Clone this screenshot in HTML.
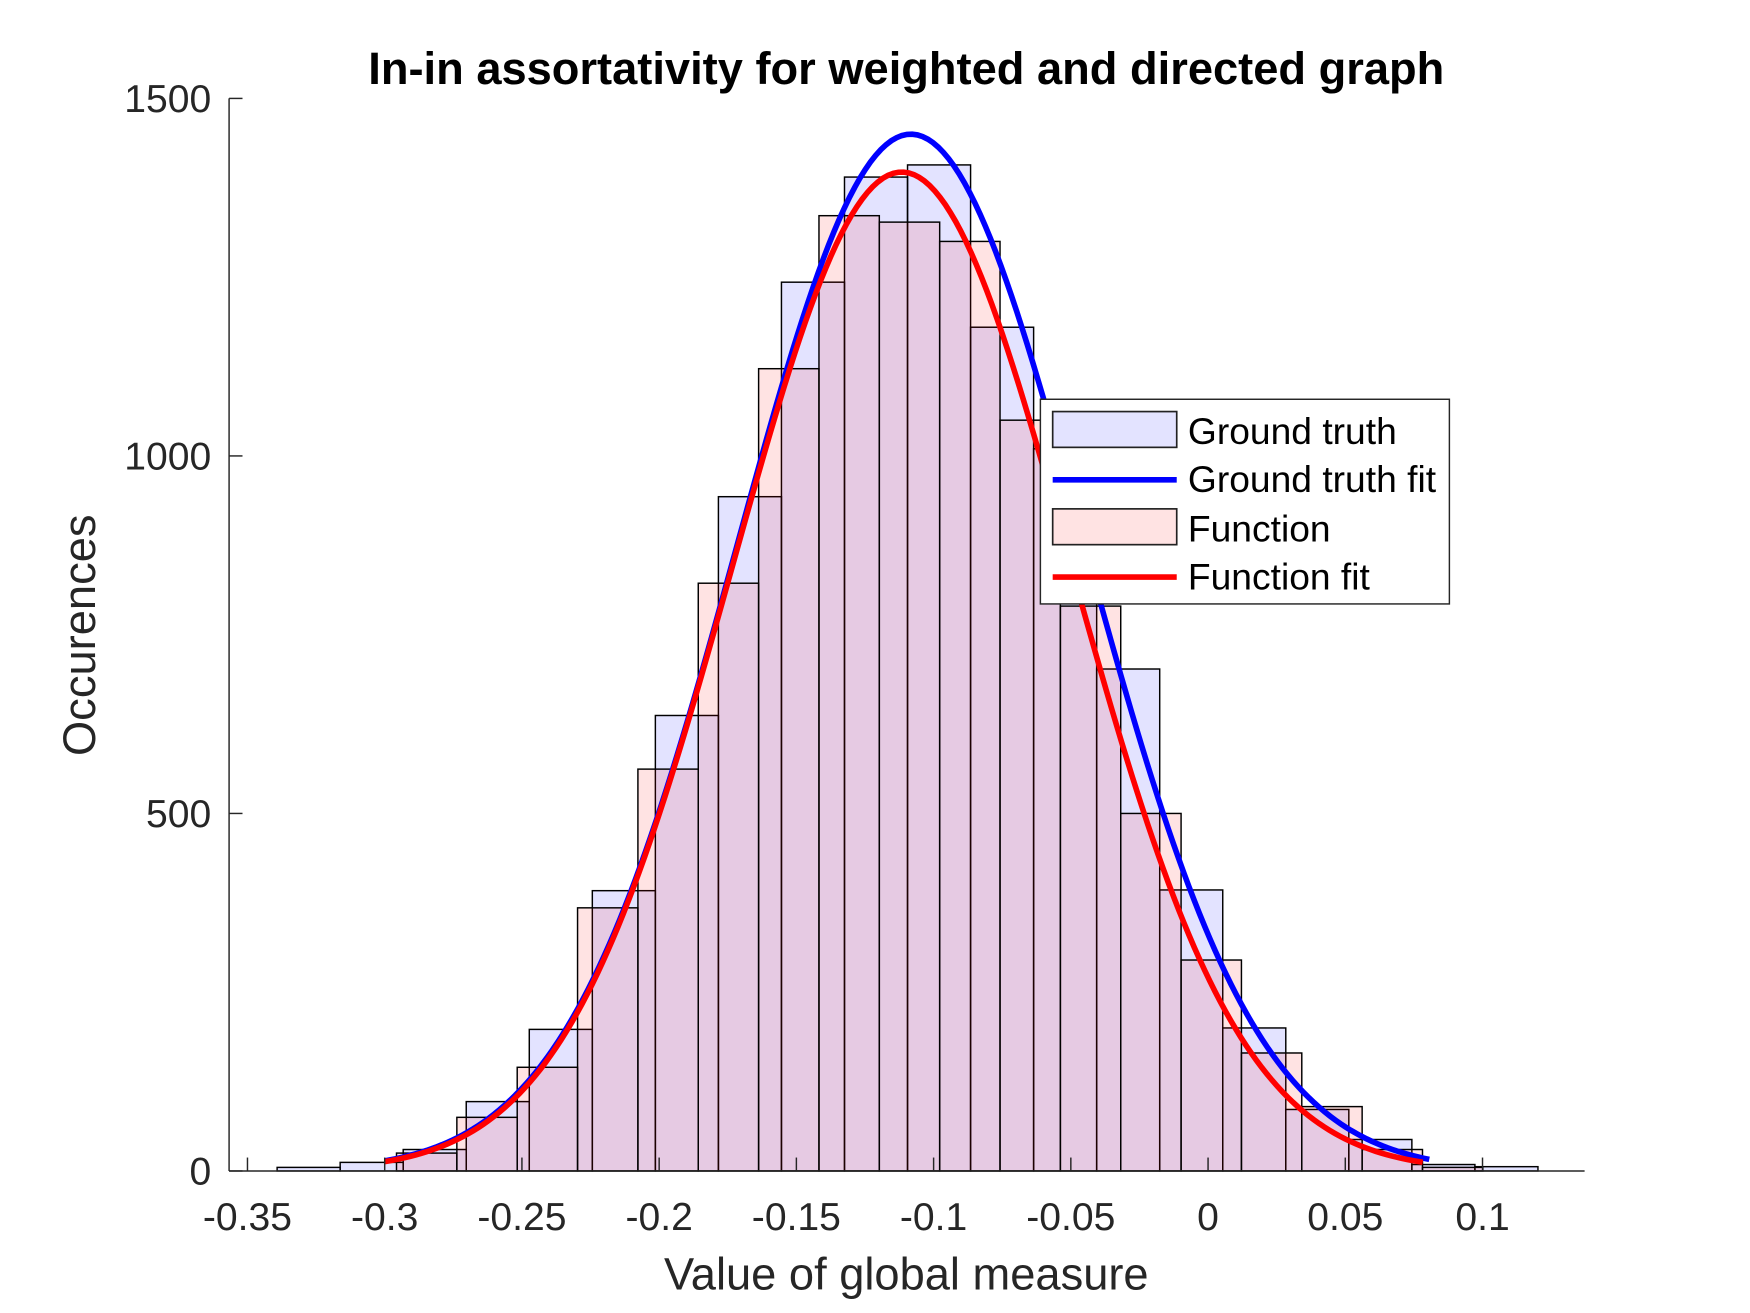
<!DOCTYPE html>
<html><head><meta charset="utf-8"><style>
html,body{margin:0;padding:0;background:#fff;}
svg{display:block;font-family:"Liberation Sans",Arial,sans-serif;}
</style></head><body>
<svg id="chart" width="1750" height="1313" viewBox="0 0 1566 1174" preserveAspectRatio="none" xmlns="http://www.w3.org/2000/svg">
<rect x="0" y="0" width="1566" height="1174" fill="#fff"/>
<g id="bars"></g>
<g id="curves"></g>
<g id="axes"></g>
<text x="811" y="75" text-anchor="middle" font-size="40.5" font-weight="bold" fill="#000">In-in assortativity for weighted and directed graph</text>
<text x="811" y="1153" text-anchor="middle" font-size="40.5" fill="#262626">Value of global measure</text>
<text transform="translate(85,568) rotate(-90)" text-anchor="middle" font-size="40.5" fill="#262626">Occurences</text>
<g>
<rect x="931" y="357" width="366" height="183" fill="#fff" stroke="#262626" stroke-width="1.3"/>
<rect x="942" y="368" width="111" height="32" fill="#e3e3ff" stroke="#222" stroke-width="1.5"/>
<line x1="942" y1="429" x2="1053" y2="429" stroke="#0000ff" stroke-width="5"/>
<rect x="942" y="455" width="111" height="32" fill="#ffe3e3" stroke="#222" stroke-width="1.5"/>
<line x1="942" y1="516" x2="1053" y2="516" stroke="#ff0000" stroke-width="5"/>
<text x="1063" y="397" font-size="33.3" fill="#000">Ground truth</text>
<text x="1063" y="440" font-size="33.3" fill="#000">Ground truth fit</text>
<text x="1063" y="484" font-size="33.3" fill="#000">Function</text>
<text x="1063" y="527" font-size="33.3" fill="#000">Function fit</text>
</g>
</svg>
<script>
const xTicks = [-0.35, -0.3, -0.25, -0.2, -0.15, -0.1, -0.05, 0, 0.05, 0.1];
const xTickLabels = ["-0.35", "-0.3", "-0.25", "-0.2", "-0.15", "-0.1", "-0.05", "0", "0.05", "0.1"];
const yTicks = [0, 500, 1000, 1500];
const yTickLabels = ["0", "500", "1000", "1500"];
const groundTruthStart = -0.3392;
const groundTruthBinWidth = 0.02297;
const groundTruthCounts = [5, 12, 30, 97, 198, 392, 637, 943, 1243, 1390, 1407, 1180, 1010, 702, 393, 200, 86, 44, 9, 6];
const functionStart = -0.2957;
const functionBinWidth = 0.02199;
const functionCounts = [25, 75, 145, 368, 562, 822, 1122, 1336, 1327, 1300, 1050, 790, 500, 295, 165, 90, 30, 5];
const groundTruthFit = [1450, -0.1083, 0.063, -0.300, 0.0806];
const functionFit = [1397, -0.1116, 0.0616, -0.300, 0.0782];

const NS = "http://www.w3.org/2000/svg";
const X0 = 205, X1 = 1418, Y0 = 1047, Y1 = 88;
const xMin = -0.3567, xMax = 0.1372, yMin = 0, yMax = 1500;
function sx(v){ return X0 + (v - xMin) / (xMax - xMin) * (X1 - X0); }
function sy(v){ return Y0 - (v - yMin) / (yMax - yMin) * (Y0 - Y1); }
function mk(tag, attrs, parent){ const e = document.createElementNS(NS, tag); for (const k in attrs) e.setAttribute(k, attrs[k]); parent.appendChild(e); return e; }

const bars = document.getElementById('bars');
groundTruthCounts.forEach((c, i) => {
  const a = groundTruthStart + i * groundTruthBinWidth;
  const r = mk('rect', {x: sx(a), y: sy(c), width: sx(a + groundTruthBinWidth) - sx(a), height: sy(0) - sy(c), fill: '#0000ff', 'fill-opacity': 0.11, stroke: '#000', 'stroke-width': 1.3}, bars);
  
  
});
functionCounts.forEach((c, i) => {
  const a = functionStart + i * functionBinWidth;
  const r = mk('rect', {x: sx(a), y: sy(c), width: sx(a + functionBinWidth) - sx(a), height: sy(0) - sy(c), fill: '#ff0000', 'fill-opacity': 0.11, stroke: '#000', 'stroke-width': 1.3}, bars);
  
  
});

const curves = document.getElementById('curves');
function fitPath(p){
  const [A, mu, s, lo, hi] = p; let d = '';
  for (let i = 0; i <= 200; i++){ const x = lo + (hi - lo) * i / 200; const y = A * Math.exp(-((x - mu) ** 2) / (2 * s * s)); d += (i ? 'L' : 'M') + sx(x).toFixed(2) + ' ' + sy(y).toFixed(2); }
  return d;
}
const bl = mk('path', {d: fitPath(groundTruthFit), fill: 'none', stroke: '#0000ff', 'stroke-width': 5}, curves);


const rl = mk('path', {d: fitPath(functionFit), fill: 'none', stroke: '#ff0000', 'stroke-width': 5}, curves);



const axes = document.getElementById('axes');
const xa = mk('line', {x1: X0, y1: Y0, x2: X1, y2: Y0, stroke: '#262626', 'stroke-width': 1.3}, axes);


const ya = mk('line', {x1: X0, y1: Y0, x2: X0, y2: Y1, stroke: '#262626', 'stroke-width': 1.3}, axes);


xTicks.forEach((v, i) => {
  const t = mk('line', {x1: sx(v), y1: Y0, x2: sx(v), y2: Y0 - 12, stroke: '#262626', 'stroke-width': 1.3}, axes);
  
  
  const l = mk('text', {x: sx(v), y: 1100, 'text-anchor': 'middle', 'font-size': 35, fill: '#262626'}, axes);
  l.textContent = xTickLabels[i];
  
  
});
yTicks.forEach((v, i) => {
  const t = mk('line', {x1: X0, y1: sy(v), x2: X0 + 12, y2: sy(v), stroke: '#262626', 'stroke-width': 1.3}, axes);
  
  
  const l = mk('text', {x: 189, y: sy(v) + 12, 'text-anchor': 'end', 'font-size': 35, fill: '#262626'}, axes);
  l.textContent = yTickLabels[i];
  
  
});
</script>
</body></html>
